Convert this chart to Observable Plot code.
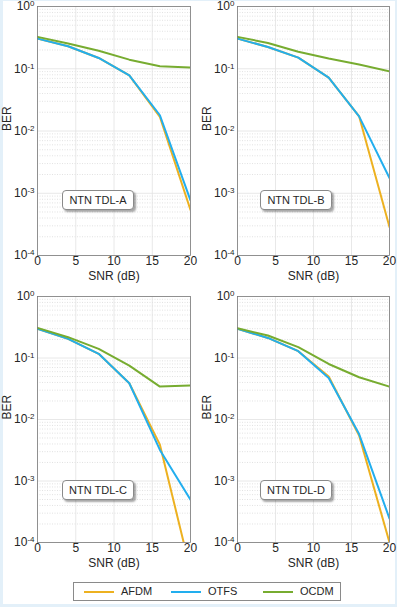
<!DOCTYPE html>
<html><head><meta charset="utf-8">
<script src="https://cdn.jsdelivr.net/npm/d3@7"></script>
<script src="https://cdn.jsdelivr.net/npm/@observablehq/plot@0.6"></script>
<style>
html,body{margin:0;padding:0;background:#e3f0f9;}
#page{position:relative;width:397px;height:607px;overflow:hidden;font-family:"Liberation Sans",Arial,sans-serif;color:#262626;}
#inner{position:absolute;left:3px;top:1px;width:392px;height:603px;background:#fff;}
.panel{position:absolute;}
.tag{position:absolute;box-sizing:border-box;border:1px solid #8a8a8a;border-radius:4px;background:#fff;box-shadow:2px 2px 2px rgba(0,0,0,0.35);font-size:11px;text-align:center;line-height:18px;color:#262626;}
#legend{position:absolute;left:73px;top:582px;width:268px;height:19px;box-sizing:border-box;border:1px solid #8a8a8a;background:#fff;font-size:11px;}
.li{position:absolute;top:0;height:17px;line-height:17px;}
.li span.sw{position:absolute;top:8px;width:30px;height:2px;}
</style></head>
<body><div id="page"><div id="inner"></div></div>
<script>
// ---- data ----
const snr = [0, 4, 8, 12, 16, 20];
const channels = ["NTN TDL-A", "NTN TDL-B", "NTN TDL-C", "NTN TDL-D"];
const schemes = ["AFDM", "OTFS", "OCDM"];
const colors = ["#EDB120", "#22AEEE", "#77AC30"];

const afdmA = [0.305, 0.230, 0.149, 0.078, 0.0168, 5.4e-4];
const otfsA = [0.305, 0.230, 0.149, 0.078, 0.0179, 7.7e-4];
const ocdmA = [0.325, 0.254, 0.194, 0.140, 0.110, 0.105];

const afdmB = [0.305, 0.224, 0.151, 0.072, 0.0172, 2.86e-4];
const otfsB = [0.305, 0.224, 0.151, 0.072, 0.0172, 1.75e-3];
const ocdmB = [0.325, 0.260, 0.187, 0.146, 0.117, 0.091];

const afdmC = [0.298, 0.205, 0.117, 0.0388, 0.0039, 3.5e-5];
const otfsC = [0.298, 0.205, 0.117, 0.0388, 0.0032, 4.95e-4];
const ocdmC = [0.309, 0.218, 0.141, 0.075, 0.0343, 0.0356];

const afdmD = [0.298, 0.212, 0.129, 0.050, 0.0055, 1.0e-4];
const otfsD = [0.298, 0.212, 0.129, 0.0474, 0.0058, 2.45e-4];
const ocdmD = [0.305, 0.232, 0.150, 0.080, 0.0486, 0.0343];

const xTicks = [0, 5, 10, 15, 20];
const yTicks = [1e-4, 1e-3, 1e-2, 1e-1, 1];
const xLabel = "SNR (dB)";
const yLabel = "BER";

const series = [
  [afdmA, otfsA, ocdmA],
  [afdmB, otfsB, ocdmB],
  [afdmC, otfsC, ocdmC],
  [afdmD, otfsD, ocdmD]
];

// ---- layout ----
const layouts = [
  {left: 0,   top: 0,   width: 197, height: 280, ml: 37, mr: 7, mt: 6,  mb: 25, tag: [62, 190]},
  {left: 197, top: 0,   width: 200, height: 280, ml: 40, mr: 8, mt: 6,  mb: 25, tag: [260, 190]},
  {left: 0,   top: 280, width: 197, height: 290, ml: 37, mr: 7, mt: 16, mb: 28, tag: [62, 480]},
  {left: 197, top: 280, width: 200, height: 290, ml: 40, mr: 8, mt: 16, mb: 28, tag: [260, 480]}
];

const supMap = {"-": "⁻", "0": "⁰", "1": "¹", "2": "²", "3": "³", "4": "⁴", "5": "⁵"};
const unsup = Object.fromEntries(Object.entries(supMap).map(([a, b]) => [b, a]));
const fmtY = d => "10" + String(Math.round(Math.log10(d))).split("").map(c => supMap[c]).join("");

const minor = [];
for (let e = -4; e < 0; e++) for (let k = 2; k <= 9; k++) minor.push(k * Math.pow(10, e));

const page = document.getElementById("page");

series.forEach((ser, i) => {
  const L = layouts[i];
  const rows = [];
  ser.forEach((vals, s) => snr.forEach((x, j) => rows.push({x, y: vals[j], scheme: schemes[s]})));
  const svg = Plot.plot({
    width: L.width, height: L.height,
    marginLeft: L.ml, marginRight: L.mr, marginTop: L.mt, marginBottom: L.mb,
    style: {fontFamily: '"Liberation Sans", Arial, sans-serif', fontSize: "12px", color: "#262626", background: "transparent", overflow: "visible"},
    x: {domain: [0, 20]},
    y: {type: "log", domain: [1e-4, 1]},
    color: {domain: schemes, range: colors},
    marks: [
      Plot.frame({fill: "#fff", stroke: "none"}),
      Plot.ruleY(minor, {stroke: "#cfcfcf", strokeWidth: 0.6, strokeDasharray: "1,1.5"}),
      Plot.ruleY(yTicks, {stroke: "#e2e2e2", strokeWidth: 0.8}),
      Plot.ruleX(xTicks, {stroke: "#e2e2e2", strokeWidth: 0.8}),
      Plot.axisX({ticks: xTicks, tickSize: 0, tickPadding: 1, label: null, fontSize: 12, tickFormat: d => String(d)}),
      Plot.axisY({ticks: yTicks, tickSize: 0, tickPadding: 3, label: null, fontSize: 12, tickFormat: fmtY}),
      Plot.line(rows, {x: "x", y: "y", z: "scheme", stroke: "scheme", strokeWidth: 2, clip: true}),
      Plot.frame({stroke: "#7a7a7a", strokeWidth: 0.8}),
      Plot.text([yLabel], {text: d => d, frameAnchor: "left", dx: -30, rotate: -90, fontSize: 12}),
      Plot.text([xLabel], {text: d => d, frameAnchor: "bottom", dy: 24, fontSize: 12})
    ]
  });
  // superscript exponents
  svg.querySelectorAll('g[aria-label="y-axis tick label"] text').forEach(t => {
    const s = t.textContent;
    if (!s.startsWith("10")) return;
    const exp = s.slice(2).split("").map(c => unsup[c] ?? c).join("");
    t.textContent = "10";
    const ts = document.createElementNS("http://www.w3.org/2000/svg", "tspan");
    ts.setAttribute("dy", "-0.5em");
    ts.setAttribute("font-size", "8px");
    ts.textContent = exp;
    t.appendChild(ts);
  });
  svg.classList.add("panel");
  svg.style.position = "absolute";
  svg.style.left = L.left + "px";
  svg.style.top = L.top + "px";
  page.appendChild(svg);

  const tag = document.createElement("div");
  tag.className = "tag";
  tag.style.left = L.tag[0] + "px";
  tag.style.top = L.tag[1] + "px";
  tag.style.width = "72px";
  tag.style.height = "20px";
  tag.textContent = channels[i];
  page.appendChild(tag);
});

// legend
const legend = document.createElement("div");
legend.id = "legend";
const lx = [10, 97, 189];
schemes.forEach((s, k) => {
  const item = document.createElement("div");
  item.className = "li";
  item.style.left = lx[k] + "px";
  const sw = document.createElement("span");
  sw.className = "sw";
  sw.style.left = "0px";
  sw.style.background = colors[k];
  const tx = document.createElement("span");
  tx.style.position = "absolute";
  tx.style.left = "37px";
  tx.style.whiteSpace = "nowrap";
  tx.textContent = s;
  item.appendChild(sw);
  item.appendChild(tx);
  legend.appendChild(item);
});
page.appendChild(legend);
</script>
</body></html>
